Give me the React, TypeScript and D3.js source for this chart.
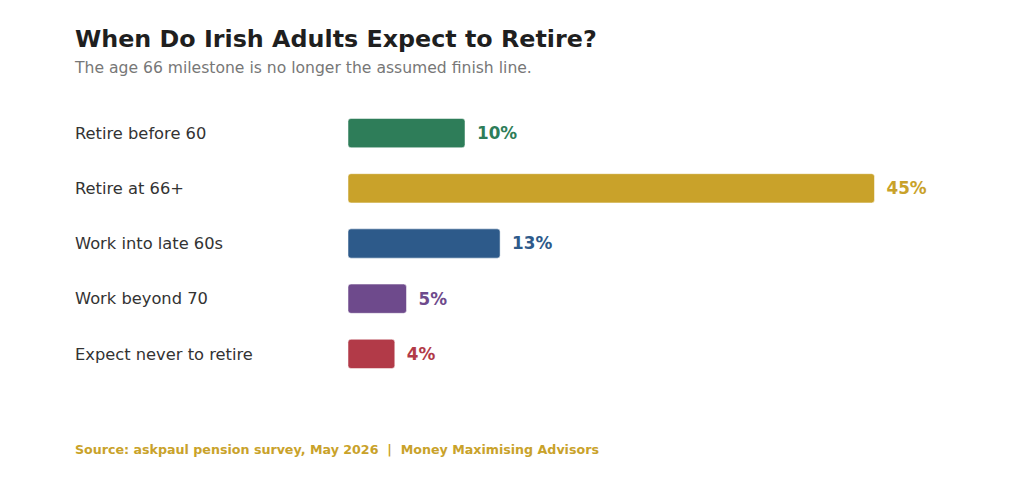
import { useEffect, useRef } from 'react'
import * as d3 from 'd3'

const categories = ['Retire before 60', 'Retire at 66+', 'Work into late 60s', 'Work beyond 70', 'Expect never to retire']
const shares = [10, 45, 13, 5, 4]
const colors = ['#2e7d59', '#c9a22a', '#2d5a8a', '#6e4a8c', '#b23a48']

const title = 'When Do Irish Adults Expect to Retire?'
const subtitle = 'The age 66 milestone is no longer the assumed finish line.'
const source = 'Source: askpaul pension survey, May 2026  |  Money Maximising Advisors'

const W = 1024
const H = 500
const FONT = '"DejaVu Sans", sans-serif'

export default function App() {
  const ref = useRef<SVGSVGElement | null>(null)

  useEffect(() => {
    if (!ref.current) return
    const svg = d3.select(ref.current)
    svg.selectAll('*').remove()

    svg.append('rect').attr('width', W).attr('height', H).attr('fill', '#fff')

    svg.append('text')
      .attr('x', 75).attr('y', 47)
      .text(title)
      .style('font-family', FONT)
      .style('font-size', '23.8px')
      .style('font-weight', 'bold')
      .style('fill', '#1f1f1f')

    svg.append('text')
      .attr('x', 75).attr('y', 73)
      .text(subtitle)
      .style('font-family', FONT)
      .style('font-size', '15.6px')
      .style('fill', '#777')

    const x = d3.scaleLinear().domain([0, 45]).range([348, 874.5])
    const y = d3.scaleBand<string>()
      .domain(categories)
      .range([105.5, 381.5])
      .paddingInner(0.47)
      .paddingOuter(0.235)

    const rows = svg.selectAll('.row')
      .data(categories)
      .enter()
      .append('g')
      .attr('class', 'row')

    // category labels
    rows.append('text')
      .attr('x', 75)
      .attr('y', d => y(d)! + y.bandwidth() / 2)
      .attr('dy', '0.35em')
      .text(d => d)
      .style('font-family', FONT)
      .style('font-size', '16.3px')
      .style('fill', '#333')

    // bars
    rows.append('rect')
      .attr('x', x(0))
      .attr('y', d => y(d)!)
      .attr('width', (d, i) => x(shares[i]) - x(0))
      .attr('height', y.bandwidth())
      .attr('rx', 3)
      .style('fill', (d, i) => colors[i])
      .style('stroke', '#fff')
      .style('stroke-opacity', 0.5)
      .style('stroke-width', 1)

    // value labels
    rows.append('text')
      .attr('x', (d, i) => x(shares[i]) + 12)
      .attr('y', d => y(d)! + y.bandwidth() / 2)
      .attr('dy', '0.35em')
      .text((d, i) => `${shares[i]}%`)
      .style('font-family', FONT)
      .style('font-size', '16.8px')
      .style('font-weight', 'bold')
      .style('fill', (d, i) => colors[i])

    svg.append('text')
      .attr('x', 75).attr('y', 454)
      .text(source)
      .style('font-family', FONT)
      .style('font-size', '12.65px')
      .style('font-weight', 'bold')
      .style('fill', '#c9a22a')
      .style('white-space', 'pre')
  }, [])

  return (
    <svg
      ref={ref}
      width={W}
      height={H}
      style={{ position: 'absolute', left: 0, top: 0, display: 'block' }}
    />
  )
}
